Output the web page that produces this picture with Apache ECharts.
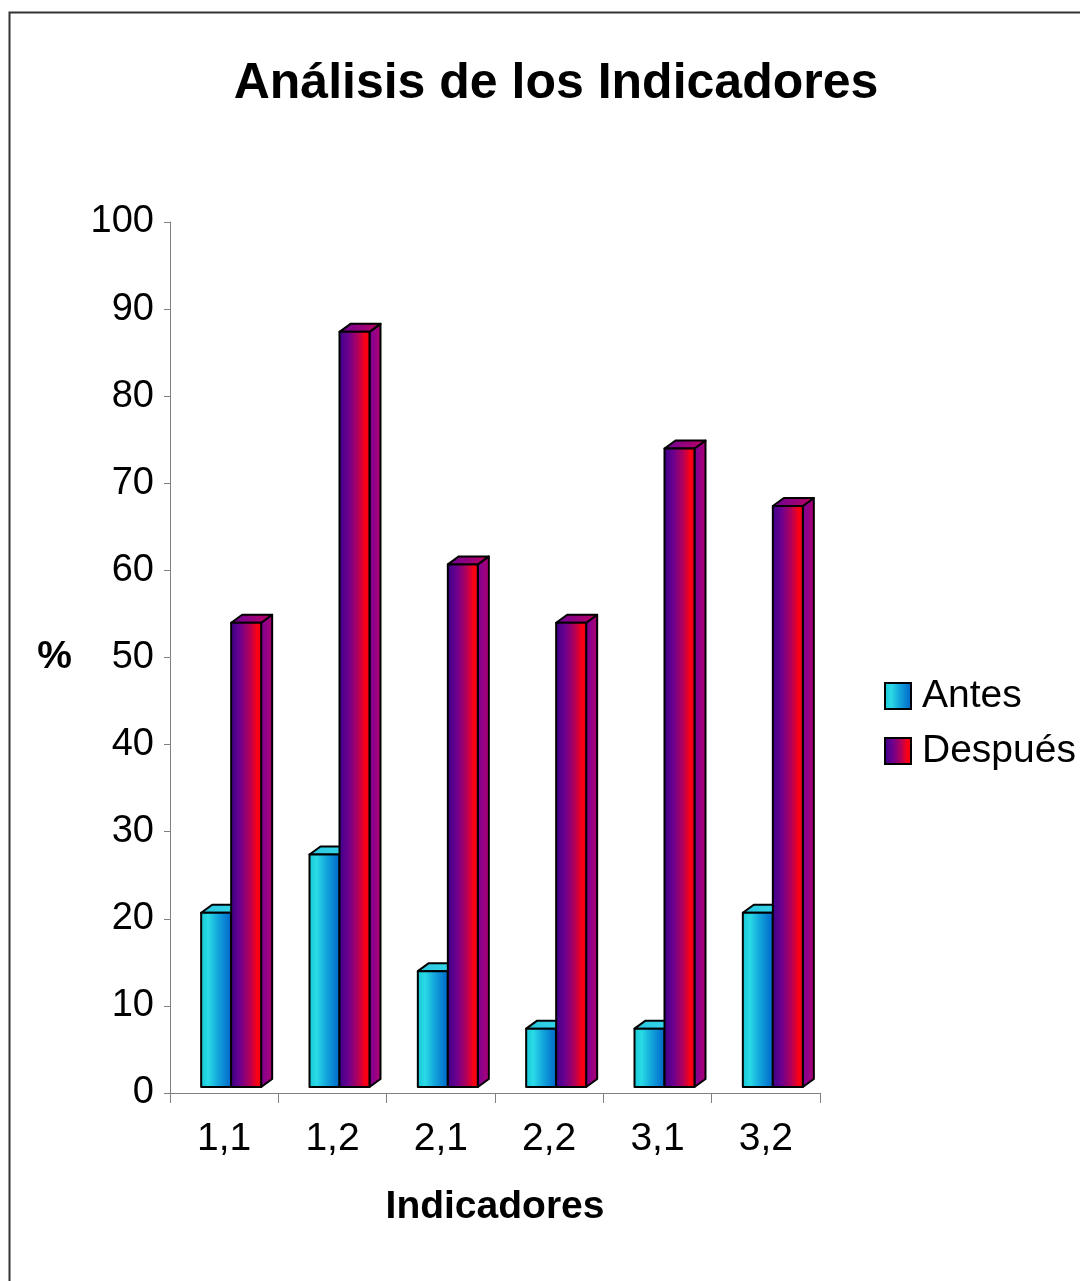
<!DOCTYPE html>
<html>
<head>
<meta charset="utf-8">
<script src="https://cdn.jsdelivr.net/npm/echarts@6/dist/echarts.min.js"></script>
<style>
	html, body { margin: 0; padding: 0; background: #fff; }
	#main { width: 1080px; height: 1281px; }
</style>
</head>
<body>
<div id="main"></div>
<script>
var categories = ['1,1', '1,2', '2,1', '2,2', '3,1', '3,2'];
var antes = [20, 26.7, 13.3, 6.7, 6.7, 20];
var despues = [53.3, 86.7, 60, 53.3, 73.3, 66.7];
var seriesNames = ['Antes', 'Después'];

var FONT = '"Liberation Sans", Arial, sans-serif';

function hGrad(stops) {
	return new echarts.graphic.LinearGradient(0, 0, 1, 0, stops.map(function(s){
		return { offset: s[0], color: s[1] };
	}));
}

// colores de cada cara (frente, lado, tapa)
var looks = [
	{
		front: [[0, '#14c4d4'], [0.25, '#2adbe6'], [0.55, '#13a6dc'], [1, '#0062c8']],
		side: [[0, '#1aa8d8'], [1, '#0a6cc8']],
		top: [[0, '#28c8e0'], [1, '#3ad6ea']]
	},
	{
		front: [[0, '#3a0088'], [0.3, '#6a0090'], [0.6, '#b0005c'], [0.85, '#ff0010'], [1, '#e00020']],
		side: [[0, '#7a0098'], [1, '#b00070']],
		top: [[0, '#6a0098'], [1, '#c00060']]
	}
];

var DX = 11, DY = -8, LIFT = 6, BW = 30;

function makeRender(k) {
	return function(params, api) {
		var idx = api.value(0);
		var base = api.coord([idx, 0]);
		var top = api.coord([idx, api.value(1)]);
		var x0 = base[0] - 23 + k * BW;
		var x1 = x0 + BW;
		var yb = base[1] - LIFT;
		var yt = top[1] - LIFT;
		var look = looks[k];
		var line = { stroke: '#000', lineWidth: 2, lineJoin: 'round' };
		return {
			type: 'group',
			children: [
				{
					type: 'polygon',
					shape: { points: [[x1, yb], [x1 + DX, yb + DY], [x1 + DX, yt + DY], [x1, yt]] },
					style: Object.assign({ fill: hGrad(look.side) }, line)
				},
				{
					type: 'polygon',
					shape: { points: [[x0, yt], [x0 + DX, yt + DY], [x1 + DX, yt + DY], [x1, yt]] },
					style: Object.assign({ fill: hGrad(look.top) }, line)
				},
				{
					type: 'rect',
					shape: { x: x0, y: yt, width: BW, height: yb - yt },
					style: Object.assign({ fill: hGrad(look.front) }, line)
				}
			]
		};
	};
}

var chart = echarts.init(document.getElementById('main'), null, { renderer: 'canvas' });

var option = {
	backgroundColor: '#fff',
	animation: false,
	textStyle: { fontFamily: FONT },
	title: {
		text: 'Análisis de los Indicadores',
		left: 551,
		top: 54,
		textAlign: 'center',
		textStyle: { fontFamily: FONT, fontSize: 50, fontWeight: 'bold', color: '#000' }
	},
	graphic: [
		{
			type: 'rect',
			left: 7, top: 10,
			shape: { width: 1100, height: 1300 },
			style: { fill: 'none', stroke: '#333', lineWidth: 2 },
			silent: true
		}
	],
	legend: {
		orient: 'vertical',
		left: 879,
		top: 669,
		itemWidth: 26,
		itemHeight: 26,
		itemGap: 11,
		icon: 'rect',
		textStyle: { fontFamily: FONT, fontSize: 39, color: '#000', lineHeight: 44, padding: [0, 0, 0, 6] },
		data: [
			{ name: seriesNames[0], itemStyle: { color: hGrad(looks[0].front), borderColor: '#000', borderWidth: 2 } },
			{ name: seriesNames[1], itemStyle: { color: hGrad(looks[1].front), borderColor: '#000', borderWidth: 2 } }
		]
	},
	grid: { left: 170, right: 260, top: 222, bottom: 188, containLabel: false },
	xAxis: {
		type: 'category',
		data: categories,
		boundaryGap: true,
		name: 'Indicadores',
		nameLocation: 'middle',
		nameGap: 95,
		nameTextStyle: { fontFamily: FONT, fontSize: 39, fontWeight: 'bold', color: '#000' },
		axisLine: { lineStyle: { color: '#808080', width: 1 } },
		axisTick: { show: true, length: 10, lineStyle: { color: '#808080' } },
		axisLabel: { fontFamily: FONT, fontSize: 39, color: '#000', margin: 27 },
		splitLine: { show: false }
	},
	yAxis: {
		type: 'value',
		min: 0,
		max: 100,
		interval: 10,
		name: '%',
		nameLocation: 'middle',
		nameRotate: 0,
		nameGap: 98,
		nameTextStyle: { fontFamily: FONT, fontSize: 39, fontWeight: 'bold', color: '#000' },
		axisLine: { show: true, lineStyle: { color: '#808080', width: 1 } },
		axisTick: { show: true, length: 6, lineStyle: { color: '#808080' } },
		axisLabel: { fontFamily: FONT, fontSize: 38, color: '#000', margin: 16 },
		splitLine: { show: false }
	},
	series: [
		{
			name: seriesNames[0],
			type: 'custom',
			renderItem: makeRender(0),
			itemStyle: { color: '#14b0dc' },
			encode: { x: 0, y: 1 },
			data: antes.map(function(v, i){ return [i, v]; })
		},
		{
			name: seriesNames[1],
			type: 'custom',
			renderItem: makeRender(1),
			itemStyle: { color: '#a0006a' },
			encode: { x: 0, y: 1 },
			data: despues.map(function(v, i){ return [i, v]; })
		}
	]
};

chart.setOption(option);
</script>
</body>
</html>
